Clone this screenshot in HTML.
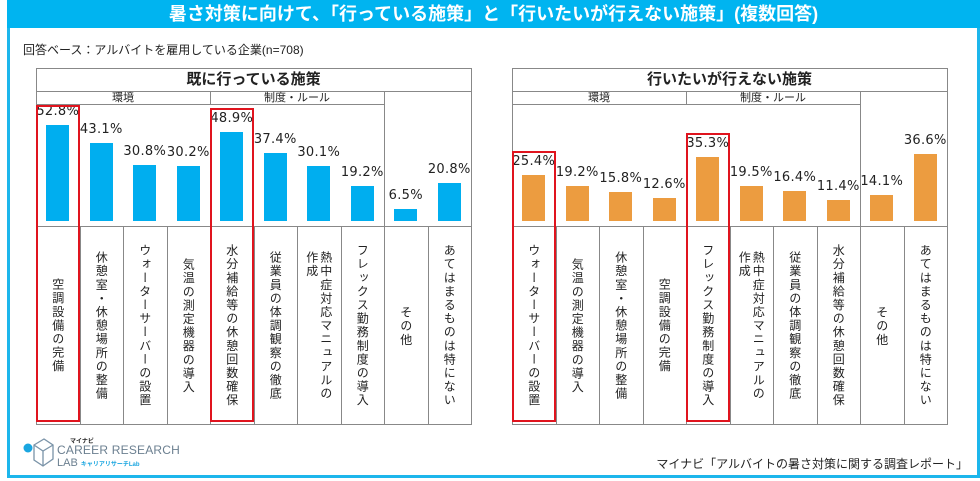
<!DOCTYPE html>
<html><head><meta charset="utf-8">
<style>
body{margin:0;width:980px;height:481px;background:#fff;position:relative;overflow:hidden;font-family:"Liberation Sans","Noto Sans CJK JP",sans-serif;color:#222}
.abs{position:absolute}
#title{left:7px;top:0;width:973px;height:28px;background:#00b4f0;color:#fff;font-size:18px;font-weight:bold;text-align:center;line-height:28px}
#frame{left:7px;top:28px;width:967px;height:447px;border:3px solid #1cb6ec;border-top:none}
.ln{position:absolute;background:#888}
.vt{position:absolute;writing-mode:vertical-rl;font-size:12px;letter-spacing:1.6px;line-height:14px;display:flex;align-items:center;justify-content:center}
.val{position:absolute;font-size:13px;text-align:center;width:60px;font-family:"DejaVu Sans",sans-serif;letter-spacing:0.3px}
.red{position:absolute;border:2px solid #e0141e;box-sizing:border-box}
</style></head><body>
<div id="title" class="abs">暑さ対策に向けて、「行っている施策」と「行いたいが行えない施策」(複数回答)</div>
<div id="frame" class="abs"></div>
<div class="abs" style="left:23px;top:41px;font-size:12px">回答ベース：アルバイトを雇用している企業(n=708)</div>
<div id="root"></div>
<div class="abs" style="left:22px;top:436px;width:170px;height:36px">
<svg width="34" height="34" style="position:absolute;left:0;top:0"><circle cx="6" cy="12" r="4.5" fill="#1aa6e0"/><path d="M12 9 L22 3 L31 9 L31 23 L21 30 L12 24 Z M12 9 L21 15 L31 9 M21 15 L21 30" fill="none" stroke="#7a93a8" stroke-width="1.3"/></svg>
<div style="position:absolute;left:48px;top:0;font-size:6px;font-weight:bold">マイナビ</div>
<div style="position:absolute;left:35px;top:7px;font-size:12px;color:#6b7f90;letter-spacing:0.2px;white-space:nowrap">CAREER RESEARCH</div>
<div style="position:absolute;left:35px;top:21px;font-size:11px;color:#6b7f90;white-space:nowrap">LAB <span style="font-size:6px;color:#1aa6e0;font-weight:bold">キャリアリサーチLab</span></div>
</div>
<div class="abs" style="right:12px;top:455px;font-size:12px;white-space:nowrap">マイナビ「アルバイトの暑さ対策に関する調査レポート」</div>
<script>
const leftCats=["空調設備の完備","休憩室・休憩場所の整備","ウォーターサーバーの設置","気温の測定機器の導入","水分補給等の休憩回数確保","従業員の体調観察の徹底","熱中症対応マニュアルの|作成","フレックス勤務制度の導入","その他","あてはまるものは特にない"];
const leftVals=[52.8,43.1,30.8,30.2,48.9,37.4,30.1,19.2,6.5,20.8];
const rightCats=["ウォーターサーバーの設置","気温の測定機器の導入","休憩室・休憩場所の整備","空調設備の完備","フレックス勤務制度の導入","熱中症対応マニュアルの|作成","従業員の体調観察の徹底","水分補給等の休憩回数確保","その他","あてはまるものは特にない"];
const rightVals=[25.4,19.2,15.8,12.6,35.3,19.5,16.4,11.4,14.1,36.6];
const groupLabels=["環境","制度・ルール"];
const leftHighlight=[0,4];
const rightHighlight=[0,4];

const root=document.getElementById('root');
function mk(cls,st,txt){const d=document.createElement('div');d.className=cls;d.style.cssText=st;if(txt!=null)d.innerHTML=txt;root.appendChild(d);return d;}
function chart(x0,title,cats,vals,color,hl,key){
  const W=435,cw=W/10,top=68,base=221,lab=226,bot=424,k=1.82;
  const yv=v=>base-v*k;
  let t=mk('abs',`left:${x0}px;top:${top}px;width:${W}px;height:23px;text-align:center;font-size:15px;font-weight:bold;line-height:24px`,title);
  
  
  [[x0,top,W,1],[x0,91,W,1],[x0,104,cw*8,1],[x0,lab,W,1],[x0,bot,W,1],[x0,top,1,bot-top+1],[x0+W,top,1,bot-top+1],[x0+cw*4,91,1,13],[x0+cw*8,91,1,bot-91]].forEach(a=>{
    const l=mk('ln',`left:${a[0]}px;top:${a[1]}px;width:${a[2]}px;height:${a[3]}px`);
    
    
  });
  groupLabels.forEach((g,i)=>{
    const e=mk('abs',`left:${x0+i*cw*4}px;top:92px;width:${cw*4}px;text-align:center;font-size:11px;line-height:13px`,g);
    
    
  });
  cats.forEach((c,i)=>{
    const cx=x0+cw*i+cw/2;
    if(i>0){const l=mk('ln',`left:${Math.round(x0+cw*i)}px;top:${lab}px;width:1px;height:${bot-lab}px`);
      
      }
    const v=vals[i];
    const b=mk('abs',`left:${cx-11.5}px;top:${yv(v)}px;width:23px;height:${v*k}px;background:${color}`);
    
    
    const vl=mk('val',`left:${cx-30}px;top:${yv(v)-21}px`,v.toFixed(1)+'%');
    
    
    const cl=mk('vt',`left:${x0+cw*i}px;top:${lab+8}px;width:${cw}px;height:${bot-lab-14}px`,c.replace('|','<br>'));
    
    
  });
  hl.forEach(i=>{
    const tp=Math.min(yv(vals[i])-24,base-20);
    const r=mk('red',`left:${x0+cw*i}px;top:${Math.max(tp,105)}px;width:${cw}px;height:${bot-Math.max(tp,105)-2}px`);
    
    
  });
}
chart(36,"既に行っている施策",leftCats,leftVals,"#00aeef",leftHighlight,'left');
chart(512,"行いたいが行えない施策",rightCats,rightVals,"#ec9c40",rightHighlight,'right');
</script>
</body></html>
